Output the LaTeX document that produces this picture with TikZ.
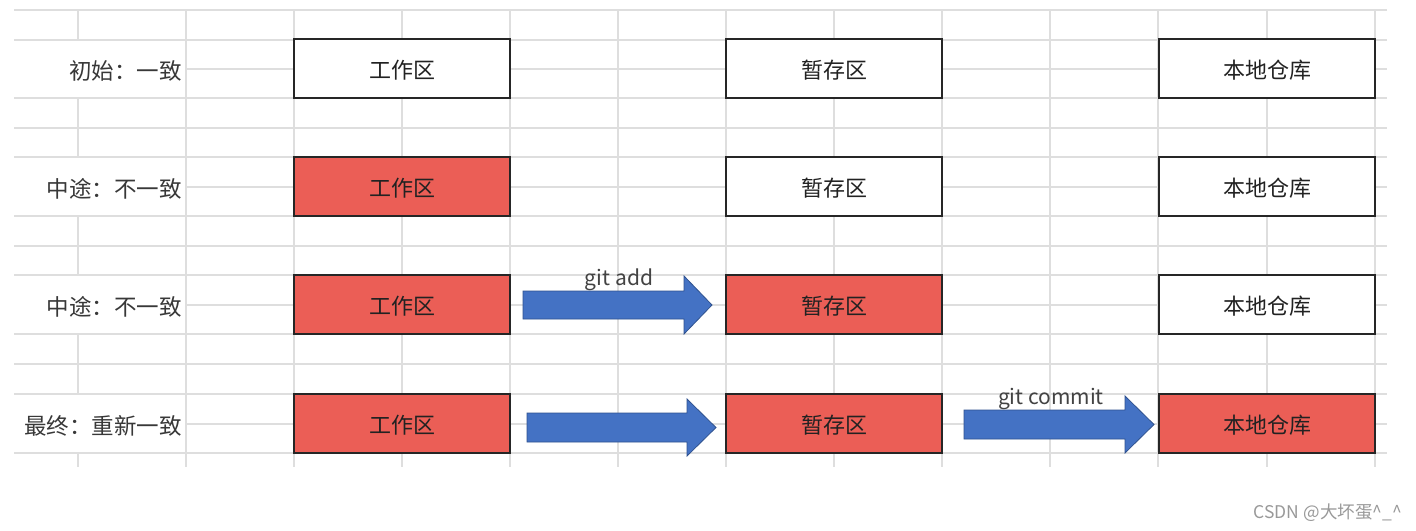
\documentclass[tikz,border=0pt]{standalone}
\usepackage{fontspec}
\newfontfamily\cjk{Noto Sans CJK SC}
\definecolor{gridc}{HTML}{DEDEDE}
\definecolor{redf}{HTML}{EB5E56}
\definecolor{bluef}{HTML}{4472C4}
\definecolor{blued}{HTML}{2F528F}
\definecolor{txt}{HTML}{222222}
\tikzset{
  gridline/.style={gridc, line width=1.3pt},
  box/.style={draw=black!85, line width=2pt, minimum width=216pt, minimum height=59pt, inner sep=0pt, font=\cjk\fontsize{22}{22}\selectfont, text=txt},
  okbox/.style={box, fill=white},
  redbox/.style={box, fill=redf},
  boxtext/.style={inner sep=0pt, font=\cjk\fontsize{22}{22}\selectfont, text=txt},
  rowlabel/.style={anchor=east, inner sep=0pt, font=\cjk\fontsize{22.5}{22.5}\selectfont, text=txt!90},
  blockarrow/.style={fill=bluef, draw=blued, line width=0.8pt, line join=miter},
  cmd/.style={anchor=base, inner sep=0pt, font=\cjk\fontsize{21}{21}\selectfont, text=txt!85}
}
\begin{document}
\begin{tikzpicture}[x=1pt,y=-1pt]
\useasboundingbox (0,0) rectangle (1416,530);
\fill[white] (0,0) rectangle (1416,530);
% grid
\foreach \yy in {10,40,98,128,157,216,246,275,334,364,394,453}
  \draw[gridline] (14,\yy) -- (1387,\yy);
\foreach \yy in {69,187,305,424}
  \draw[gridline] (186,\yy) -- (1387,\yy);
\foreach \xx in {186,294,402,510,618,726,834,942,1050,1158,1267,1375}
  \draw[gridline] (\xx,10) -- (\xx,467);
\foreach \ya/\yb in {10/40,98/157,216/275,334/394,453/467}
  \draw[gridline] (78,\ya) -- (78,\yb);
% row labels
\node[rowlabel] (l1) at (182,70.5) {初始：一致};
\node[rowlabel] (l2) at (182,188.5) {中途：不一致};
\node[rowlabel] (l3) at (182,306.5) {中途：不一致};
\node[rowlabel] (l4) at (182,425.5) {最终：重新一致};
% boxes
\node[okbox]  (w1) at (402,68.5) {};
\node[okbox]  (s1) at (834,68.5) {};
\node[okbox]  (r1) at (1267,68.5) {};
\node[redbox] (w2) at (402,186.5) {};
\node[okbox]  (s2) at (834,186.5) {};
\node[okbox]  (r2) at (1267,186.5) {};
\node[redbox] (w3) at (402,304.5) {};
\node[redbox] (s3) at (834,304.5) {};
\node[okbox]  (r3) at (1267,304.5) {};
\node[redbox] (w4) at (402,423.5) {};
\node[redbox] (s4) at (834,423.5) {};
\node[redbox] (r4) at (1267,423.5) {};
\foreach \n/\t in {w1/工作区,s1/暂存区,r1/本地仓库,w2/工作区,s2/暂存区,r2/本地仓库,w3/工作区,s3/暂存区,r3/本地仓库,w4/工作区,s4/暂存区,r4/本地仓库}
  \node[boxtext] (\n t) at ([yshift=-2pt]\n.center) {\t};
% block arrows
\draw[blockarrow] (523,291) -- (684,291) -- (684,276) -- (712,305) -- (684,334) -- (684,319) -- (523,319) -- cycle;
\draw[blockarrow] (527,413) -- (687,413) -- (687,399) -- (716,427.5) -- (687,456) -- (687,442) -- (527,442) -- cycle;
\draw[blockarrow] (964,410) -- (1125,410) -- (1125,396) -- (1154,424.5) -- (1125,453) -- (1125,439) -- (964,439) -- cycle;
\node[cmd] (ga) at (619,285) {git add};
\node[cmd] (gc) at (1051,404) {git commit};
% watermark
\node[anchor=base east, inner sep=0pt, font=\cjk\fontsize{17.5}{17.5}\selectfont, text=black!40] (wm) at (1402,518) {CSDN @大坏蛋\^{}\_\^{}};
\end{tikzpicture}
\end{document}
